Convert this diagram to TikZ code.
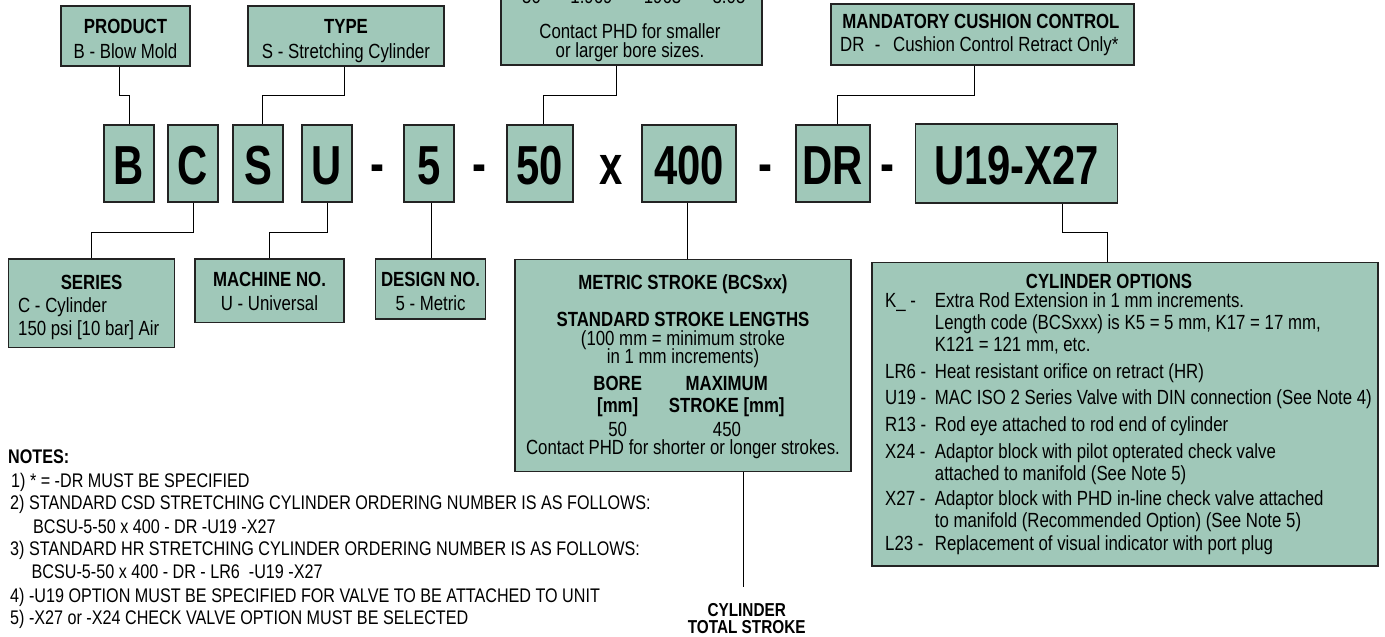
\documentclass[tikz,border=0pt]{standalone}
\usepackage{fontspec}
\setmainfont{Liberation Sans}[FakeStretch=0.82]
\newfontfamily\bigfont{Liberation Sans}[FakeStretch=0.76]
\usetikzlibrary{calc}
\definecolor{boxfill}{RGB}{160,200,185}
\definecolor{boxline}{RGB}{35,35,35}
\begin{document}
\begin{tikzpicture}[x=1pt,y=-1pt,
  box/.style={draw=boxline, fill=boxfill, line width=1.2pt, inner sep=0pt},
  txt/.style={inner sep=0pt, anchor=base, font=\fontsize{20.5}{22}\selectfont},
  btxt/.style={txt, font=\fontsize{20.5}{22}\selectfont\bfseries},
  ltxt/.style={txt, anchor=base west},
  ntxt/.style={inner sep=0pt, anchor=base west, font=\fontsize{19.7}{21}\selectfont},
  big/.style={inner sep=0pt, anchor=base, font=\bigfont\fontsize{55}{55}\selectfont\bfseries},
  tstxt/.style={inner sep=0pt, anchor=base, font=\fontsize{18.7}{19}\selectfont\bfseries},
  conn/.style={draw=black, line width=1pt},
]
\useasboundingbox (0,0) rectangle (1385,637);

% ---------- top boxes ----------
\node[box, minimum width=129pt, minimum height=60pt] (prod) at (125.5,36) {};
\node[btxt] (prodT) at (125.5,33) {PRODUCT};
\node[txt] (prodB) at (125.5,58) {B - Blow Mold};

\node[box, minimum width=196pt, minimum height=60pt] (type) at (346,36) {};
\node[btxt] (typeT) at (346,33) {TYPE};
\node[txt] (typeB) at (346,58) {S - Stretching Cylinder};

\node[box, minimum width=261pt, minimum height=125pt] (bore) at (631.5,2.5) {};
\node[txt] (boreA) at (531.5,4) {50};
\node[txt] (boreB) at (591.5,4) {1.969};
\node[txt] (boreC) at (662.5,4) {1963};
\node[txt] (boreD) at (729,4) {3.05};
\node[txt] (boreE) at (630,38) {Contact PHD for smaller};
\node[txt] (boreF) at (630,57) {or larger bore sizes.};

\node[box, minimum width=303pt, minimum height=61pt] (mand) at (982.5,34.5) {};
\node[btxt] (mandT) at (981,28.5) {MANDATORY CUSHION CONTROL};
\node[ltxt] (mandB) at (840,51) {\makebox[22pt][l]{DR}\makebox[31pt][c]{-}Cushion Control Retract Only*};

% ---------- code boxes ----------
\node[box, minimum width=50pt, minimum height=77pt] (B) at (129,163.5) {};
\node[box, minimum width=50pt, minimum height=77pt] (C) at (193,163.5) {};
\node[box, minimum width=50pt, minimum height=77pt] (S) at (258,163.5) {};
\node[box, minimum width=50pt, minimum height=77pt] (U) at (327,163.5) {};
\node[box, minimum width=50pt, minimum height=77pt] (five) at (429,163.5) {};
\node[box, minimum width=66pt, minimum height=77pt] (fifty) at (540,163.5) {};
\node[box, minimum width=94pt, minimum height=77pt] (stroke) at (689,163.5) {};
\node[box, minimum width=74pt, minimum height=77pt] (DR) at (833,163.5) {};
\node[box, line width=1.6pt, minimum width=202pt, minimum height=79pt] (opt) at (1016.5,163.5) {};

\node[big] (Bl) at (129,184) {B};
\node[big] (Cl) at (193,184) {C};
\node[big] (Sl) at (258,184) {S};
\node[big] (Ul) at (327,184) {U};
\node[big] (d1) at (377.5,182) {-};
\node[big] (fivel) at (429,184) {5};
\node[big] (d2) at (479.5,182) {-};
\node[big] (fiftyl) at (540,184) {50};
\node[big] (xl) at (611.5,184) {x};
\node[big] (strokel) at (689,184) {400};
\node[big] (d3) at (765.5,182) {-};
\node[big] (DRl) at (833,184) {DR};
\node[big] (d4) at (887.5,182) {-};
\node[big] (optl) at (1016.5,184) {U19-X27};

% ---------- lower boxes ----------
\node[box, minimum width=166pt, minimum height=88.7pt] (series) at (91.6,303.35) {};
\node[btxt] (seriesT) at (91.6,289) {SERIES};
\node[ltxt] (seriesA) at (18,312.5) {C - Cylinder};
\node[ltxt] (seriesB) at (18,335.5) {150 psi [10 bar] Air};

\node[box, minimum width=149pt, minimum height=63.3pt] (mach) at (269.5,290.65) {};
\node[btxt] (machT) at (269.5,286.5) {MACHINE NO.};
\node[txt] (machB) at (269.5,310.5) {U - Universal};

\node[box, minimum width=110pt, minimum height=60pt] (des) at (430.6,289) {};
\node[btxt] (desT) at (430.6,286.5) {DESIGN NO.};
\node[txt] (desB) at (430.6,310.5) {5 - Metric};

\node[box, minimum width=336pt, minimum height=212.4pt] (metric) at (683,365.5) {};
\node[btxt] (m1) at (683,289) {METRIC STROKE (BCSxx)};
\node[btxt] (m2) at (683,326.5) {STANDARD STROKE LENGTHS};
\node[txt] (m3) at (683,345) {(100 mm = minimum stroke};
\node[txt] (m4) at (683,363.5) {in 1 mm increments)};
\node[btxt] (m5) at (617.7,390) {BORE};
\node[btxt] (m6) at (726.7,390) {MAXIMUM};
\node[btxt] (m7) at (617.7,412.5) {[mm]};
\node[btxt] (m8) at (726.7,412.5) {STROKE [mm]};
\node[txt] (m9) at (617.7,436.5) {50};
\node[txt] (m10) at (727,436.5) {450};
\node[txt] (m11) at (683,454.5) {Contact PHD for shorter or longer strokes.};

\node[box, minimum width=506pt, minimum height=303.2pt] (options) at (1125,414.4) {};
\node[btxt] (oT) at (1109,288) {CYLINDER OPTIONS};
\foreach \n/\y/\c/\d in {
  o1/307/K\_\ -/Extra Rod Extension in 1 mm increments.,
  o2/329//{Length code (BCSxxx) is K5 = 5 mm, K17 = 17 mm,},
  o3/351//{K121 = 121 mm, etc.},
  o4/378/LR6 -/Heat resistant orifice on retract (HR),
  o5/404.5/U19 -/MAC ISO 2 Series Valve with DIN connection (See Note 4),
  o6/431/R13 -/Rod eye attached to rod end of cylinder,
  o7/458/X24 -/Adaptor block with pilot opterated check valve,
  o8/480//attached to manifold (See Note 5),
  o9/505/X27 -/Adaptor block with PHD in-line check valve attached,
  o10/527//to manifold (Recommended Option) (See Note 5),
  o11/550/L23 -/Replacement of visual indicator with port plug}
{
  \node[ltxt] (\n) at (885,\y) {\makebox[49.7pt][l]{\c}\d};
}

% ---------- notes ----------
\node[ntxt, font=\fontsize{19.7}{21}\selectfont\bfseries] (notes) at (8,463.7) {NOTES:};
\node[ntxt] (n1) at (11,487) {1) * = -DR MUST BE SPECIFIED};
\node[ntxt] (n2) at (10,509.7) {2) STANDARD CSD STRETCHING CYLINDER ORDERING NUMBER IS AS FOLLOWS:};
\node[ntxt] (n2b) at (33,533) {BCSU-5-50 x 400 - DR -U19 -X27};
\node[ntxt] (n3) at (10,555) {3) STANDARD HR STRETCHING CYLINDER ORDERING NUMBER IS AS FOLLOWS:};
\node[ntxt] (n3b) at (31.5,578.5) {BCSU-5-50 x 400 - DR - LR6 \ -U19 -X27};
\node[ntxt] (n4) at (10,602) {4) -U19 OPTION MUST BE SPECIFIED FOR VALVE TO BE ATTACHED TO UNIT};
\node[ntxt] (n5) at (10,624) {5) -X27 or -X24 CHECK VALVE OPTION MUST BE SELECTED};

\node[tstxt] (ts1) at (746.7,616.7) {CYLINDER};
\node[tstxt] (ts2) at (746.7,633.4) {TOTAL STROKE};
\coordinate (tsend) at (743,587);

% ---------- connectors ----------
\draw[conn] ([xshift=-6pt]prod.south) -- ++(0,29) -| (B.north);
\draw[conn] ([xshift=-2pt]type.south) -- ++(0,29) -| ([xshift=4pt]S.north);
\draw[conn] ([xshift=-15.5pt]bore.south) -- ++(0,30) -| ([xshift=3pt]fifty.north);
\draw[conn] ([xshift=-8.5pt]mand.south) -- ++(0,30) -| ([xshift=4.7pt]DR.north);
\draw[conn] (C.south) -- ++(0,30) -| (series.north);
\draw[conn] (U.south) -- ++(0,30) -| (mach.north);
\draw[conn] ([xshift=2pt]five.south) -- ([xshift=2pt]five.south |- des.north);
\draw[conn] ([xshift=-2pt]stroke.south) -- ([xshift=-2pt]stroke.south |- metric.north);
\draw[conn] ([xshift=45.5pt]opt.south) -- ++(0,29) -| ([xshift=-18pt]options.north);
\draw[conn] ([xshift=60pt]metric.south) -- (tsend);
\end{tikzpicture}
\end{document}
